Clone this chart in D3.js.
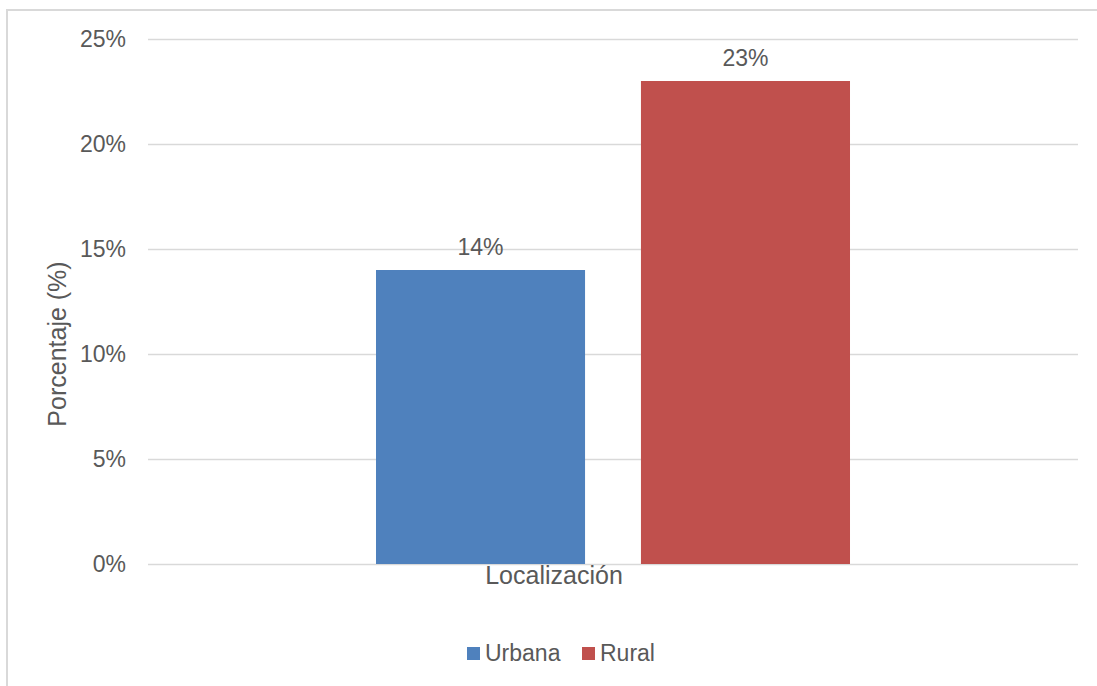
<!DOCTYPE html>
<html>
<head>
<meta charset="utf-8">
<script src="https://cdn.jsdelivr.net/npm/d3@7"></script>
<style>
  html, body { margin: 0; padding: 0; background: #fff; }
  svg { display: block; font-family: "Liberation Sans", Arial, sans-serif; }
</style>
</head>
<body>
<svg id="chart" width="1097" height="686"></svg>
<script>
// Chart data
const category = "Localización";
const seriesNames = ["Urbana", "Rural"];
const seriesValues = [14, 23];
const seriesColors = ["#4F81BD", "#C0504D"];
const yTicks = [0, 5, 10, 15, 20, 25];

const svg = d3.select("#chart");
const W = 1097, H = 686;
const textColor = "#595959";
const gridColor = "#D9D9D9";

// Outer chart frame (left and top edges visible)
svg.append("path")
  .attr("d", `M7,${H} L7,10 L${W},10`)
  .attr("fill", "none")
  .attr("stroke", gridColor)
  .attr("stroke-width", 2);

const plot = { left: 148, right: 1078, top: 39, bottom: 564 };

const y = d3.scaleLinear().domain([0, 25]).range([plot.bottom, plot.top]);

// Category band for the single group, then series within it
const x0 = d3.scaleBand().domain([category]).range([plot.left, plot.right]).paddingInner(0).paddingOuter(0.481);
const x1 = d3.scaleBand().domain(seriesNames).range([0, x0.bandwidth()]).paddingInner(0.211);

// Gridlines
svg.append("g").selectAll("line")
  .data(yTicks)
  .join("line")
  .attr("x1", plot.left).attr("x2", plot.right)
  .attr("y1", d => Math.round(y(d)) + 0.5).attr("y2", d => Math.round(y(d)) + 0.5)
  .attr("stroke", gridColor).attr("stroke-width", 1.5);

// Y-axis tick labels
const yAxis = d3.axisLeft(y).tickValues(yTicks).tickFormat(d => d + "%").tickSize(0).tickPadding(0);
const yG = svg.append("g").attr("transform", `translate(126,0)`).call(yAxis);
yG.select(".domain").remove();
yG.selectAll("text")
  .attr("fill", textColor)
  .style("font-size", "23px")
  .style("font-family", "'Liberation Sans', Arial, sans-serif");

// Bars
const bars = seriesNames.map((s, i) => ({ name: s, value: seriesValues[i], color: seriesColors[i] }));
const g = svg.append("g").attr("transform", `translate(${x0(category)},0)`);
g.selectAll("rect")
  .data(bars)
  .join("rect")
  .attr("x", d => x1(d.name))
  .attr("width", x1.bandwidth())
  .attr("y", d => y(d.value))
  .attr("height", d => y(0) - y(d.value))
  .attr("fill", d => d.color);

// Value labels
g.selectAll("text.val")
  .data(bars)
  .join("text")
  .attr("class", "val")
  .attr("x", d => x1(d.name) + x1.bandwidth() / 2)
  .attr("y", d => y(d.value) - 15)
  .attr("text-anchor", "middle")
  .attr("fill", textColor)
  .style("font-size", "23px")
  .text(d => d.value + "%");

// Category label
svg.append("text")
  .attr("x", 554)
  .attr("y", 584)
  .attr("text-anchor", "middle")
  .attr("fill", textColor)
  .style("font-size", "25px")
  .text(category);

// Y-axis title
svg.append("text")
  .attr("transform", `translate(66,344) rotate(-90)`)
  .attr("text-anchor", "middle")
  .attr("fill", textColor)
  .style("font-size", "25px")
  .text("Porcentaje (%)");

// Legend
const legendItems = [
  { name: seriesNames[0], color: seriesColors[0], x: 467 },
  { name: seriesNames[1], color: seriesColors[1], x: 582 }
];
const lg = svg.append("g");
legendItems.forEach(it => {
  lg.append("rect").attr("x", it.x).attr("y", 647).attr("width", 13).attr("height", 13).attr("fill", it.color);
  lg.append("text").attr("x", it.x + 18).attr("y", 661)
    .attr("fill", textColor).style("font-size", "23px").text(it.name);
});
</script>
</body>
</html>
